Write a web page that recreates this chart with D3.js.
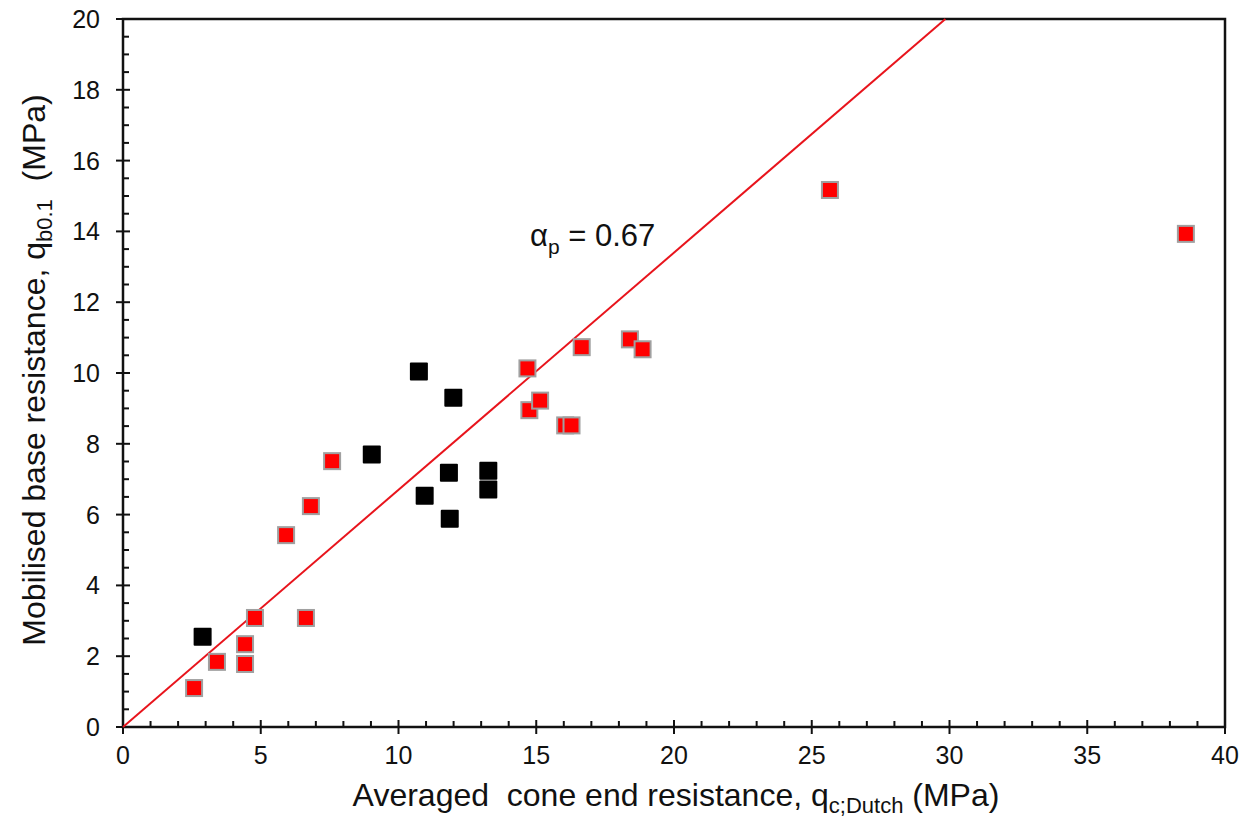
<!DOCTYPE html>
<html>
<head>
<meta charset="utf-8">
<script src="https://cdn.jsdelivr.net/npm/d3@7"></script>
<style>
    body { margin: 0; background: #fff; }
    text { font-family: "Liberation Sans", Arial, sans-serif; fill: #111; }
</style>
</head>
<body>
<div class="chart"></div>
<script>
// red series (qc;Dutch, qb0.1)
const redX = [2.58, 3.41, 4.43, 4.43, 4.79, 6.64, 5.92, 6.82, 7.59, 14.68, 14.75, 15.14, 16.05, 16.28, 16.65, 18.40, 18.86, 25.66, 38.58];
const redY = [1.10, 1.84, 2.34, 1.78, 3.08, 3.08, 5.42, 6.24, 7.51, 10.13, 8.95, 9.22, 8.52, 8.52, 10.73, 10.95, 10.67, 15.17, 13.93];

// black series
const blackX = [2.89, 9.03, 10.74, 10.95, 11.99, 11.83, 11.86, 13.26, 13.26];
const blackY = [2.55, 7.70, 10.04, 6.53, 9.30, 7.18, 5.88, 7.24, 6.71];

const alphaP = 0.67;
const xTicks = [0, 5, 10, 15, 20, 25, 30, 35, 40];
const yTicks = [0, 2, 4, 6, 8, 10, 12, 14, 16, 18, 20];

const width = 1243, height = 820;
const margin = {top: 19, right: 18, bottom: 93, left: 123};

const svg = d3.select(".chart").append("svg")
    .attr("width", width)
    .attr("height", height);

const x = d3.scaleLinear().domain([0, 40]).range([margin.left, width - margin.right]);
const y = d3.scaleLinear().domain([0, 20]).range([height - margin.bottom, margin.top]);

const g = svg.append("g");

// minor ticks (inside)
const xMinor = d3.range(0, 41, 1).filter(v => v % 5 !== 0);
const yMinor = d3.range(0, 20.01, 0.5).filter(v => v % 2 !== 0);

g.selectAll(".xminor").data(xMinor).enter().append("line")
    .attr("x1", d => x(d)).attr("x2", d => x(d))
    .attr("y1", y(0)).attr("y2", y(0) - 6)
    .attr("stroke", "#111").attr("stroke-width", 2);

g.selectAll(".yminor").data(yMinor).enter().append("line")
    .attr("x1", x(0)).attr("x2", x(0) + 6)
    .attr("y1", d => y(d)).attr("y2", d => y(d))
    .attr("stroke", "#111").attr("stroke-width", 2);

// major ticks cross the axis
g.selectAll(".xmajor").data(xTicks).enter().append("line")
    .attr("x1", d => x(d)).attr("x2", d => x(d))
    .attr("y1", y(0) - 7).attr("y2", y(0) + 7)
    .attr("stroke", "#111").attr("stroke-width", 2);

g.selectAll(".ymajor").data(yTicks).enter().append("line")
    .attr("x1", x(0) - 7).attr("x2", x(0) + 7)
    .attr("y1", d => y(d)).attr("y2", d => y(d))
    .attr("stroke", "#111").attr("stroke-width", 2);

// tick labels
g.selectAll(".xlab").data(xTicks).enter().append("text")
    .attr("x", d => x(d)).attr("y", y(0) + 37)
    .attr("text-anchor", "middle")
    .attr("font-size", "25px")
    .text(d => d);

g.selectAll(".ylab").data(yTicks).enter().append("text")
    .attr("x", x(0) - 23).attr("y", d => y(d) + 9)
    .attr("text-anchor", "end")
    .attr("font-size", "25px")
    .text(d => d);

// frame
svg.append("rect")
    .attr("x", x(0)).attr("y", y(20))
    .attr("width", x(40) - x(0)).attr("height", y(0) - y(20))
    .attr("fill", "none").attr("stroke", "#111").attr("stroke-width", 2.5);

// fitted line qb = alpha * qc, clipped at top
const xEnd = 20 / alphaP;
svg.append("line")
    .attr("x1", x(0)).attr("y1", y(0))
    .attr("x2", x(xEnd)).attr("y2", y(alphaP * xEnd))
    .attr("stroke", "#e8141c").attr("stroke-width", 2);

// points
const s = 16;
svg.selectAll(".red").data(d3.zip(redX, redY)).enter().append("rect")
    .attr("x", d => x(d[0]) - s / 2).attr("y", d => y(d[1]) - s / 2)
    .attr("width", s).attr("height", s)
    .attr("fill", "#ff0000").attr("stroke", "#a0a0a0").attr("stroke-width", 2);

const sb = 18;
svg.selectAll(".black").data(d3.zip(blackX, blackY)).enter().append("rect")
    .attr("x", d => x(d[0]) - sb / 2).attr("y", d => y(d[1]) - sb / 2)
    .attr("width", sb).attr("height", sb).attr("rx", 1)
    .attr("fill", "#000");

// annotation
const ann = svg.append("text")
    .attr("x", 530).attr("y", 246)
    .attr("font-size", "31px");
ann.append("tspan").text("α");
ann.append("tspan").attr("font-size", "21px").attr("dy", 8).text("p");
ann.append("tspan").attr("dy", -8).text(" = 0.67");

// axis titles
const xt = svg.append("text")
    .attr("x", (x(0) + x(40)) / 2 + 2).attr("y", 806)
    .attr("text-anchor", "middle")
    .attr("font-size", "32px");
xt.append("tspan").text("Averaged\u00a0\u00a0cone end resistance, q");
xt.append("tspan").attr("font-size", "22px").attr("dy", 7).text("c;Dutch");
xt.append("tspan").attr("dy", -7).text(" (MPa)");

const yt = svg.append("text")
    .attr("transform", "translate(45," + 370 + ") rotate(-90)")
    .attr("text-anchor", "middle")
    .attr("font-size", "32px");
yt.append("tspan").text("Mobilised base resistance, q");
yt.append("tspan").attr("font-size", "22px").attr("dy", 7).text("b0.1");
yt.append("tspan").attr("dy", -7).text("\u00a0\u00a0(MPa)");
</script>
</body>
</html>
